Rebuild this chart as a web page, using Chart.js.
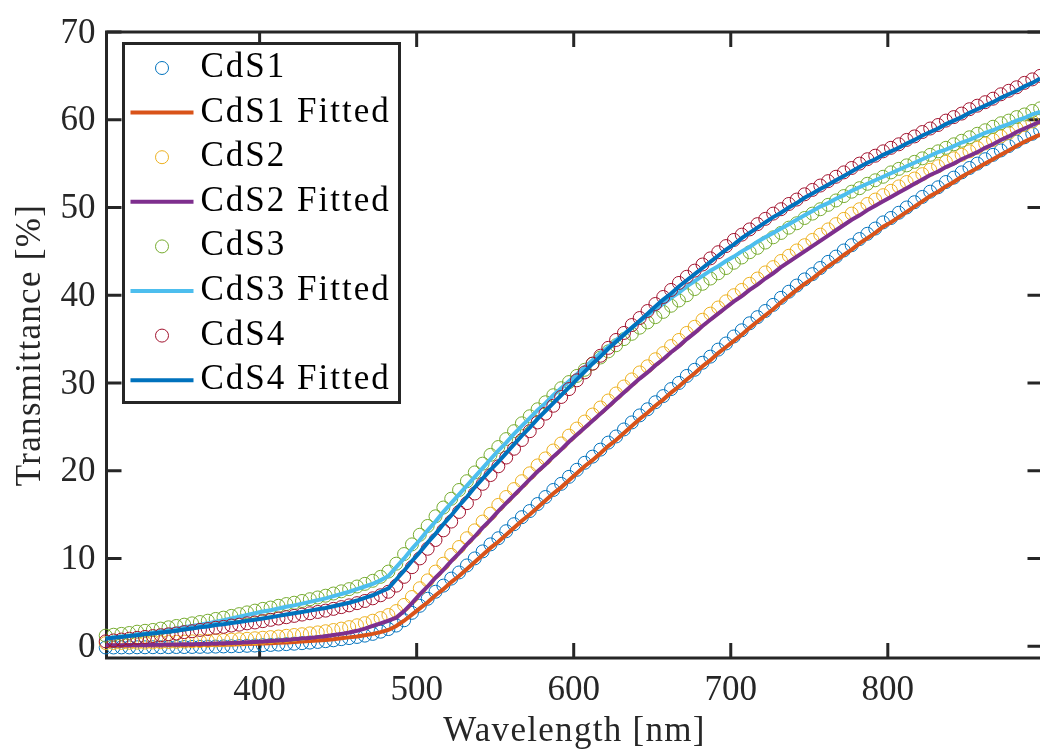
<!DOCTYPE html>
<html>
<head>
<meta charset="utf-8">
<script src="https://cdn.jsdelivr.net/npm/chart.js@4.4.1/dist/chart.umd.min.js"></script>
<style>
  html, body { margin: 0; padding: 0; overflow: hidden; background: #fff; }
</style>
</head>
<body>
<canvas id="myChart" width="1050" height="749"></canvas>
<script>
// wavelength grid [nm]
const wavelength = [
  302,307,312,317,322,327,332,337,342,347,
  352,357,362,367,372,377,382,387,392,397,
  402,407,412,417,422,427,432,437,442,447,
  452,457,462,467,472,477,482,487,492,497,
  502,507,512,517,522,527,532,537,542,547,
  552,557,562,567,572,577,582,587,592,597,
  602,607,612,617,622,627,632,637,642,647,
  652,657,662,667,672,677,682,687,692,697,
  702,707,712,717,722,727,732,737,742,747,
  752,757,762,767,772,777,782,787,792,797,
  802,807,812,817,822,827,832,837,842,847,
  852,857,862,867,872,877,882,887,892,897
];

// measured transmittance [%]
const cds1 = [
  -0.15,-0.15,-0.14,-0.14,-0.13,-0.13,-0.12,-0.12,-0.11,-0.10,
  -0.10,-0.09,-0.08,-0.07,-0.05,-0.03,-0.01,0.01,0.04,0.07,
  0.11,0.14,0.18,0.23,0.28,0.34,0.41,0.48,0.57,0.67,
  0.80,0.92,1.05,1.2,1.4,1.65,1.95,2.35,2.95,3.8,
  4.6,5.4,6.2,6.9,7.7,8.4,9.2,10.0,10.8,11.6,
  12.3,13.1,13.9,14.7,15.4,16.2,17.0,17.8,18.5,19.3,
  20.1,20.9,21.6,22.4,23.2,23.9,24.7,25.5,26.3,27.0,
  27.8,28.5,29.3,30.0,30.8,31.5,32.3,33.0,33.8,34.5,
  35.3,36.0,36.8,37.5,38.2,38.9,39.7,40.4,41.1,41.8,
  42.4,43.1,43.8,44.4,45.1,45.7,46.4,47.0,47.6,48.3,
  48.8,49.4,50.0,50.6,51.2,51.8,52.3,52.9,53.4,54.0,
  54.5,55.0,55.5,56.0,56.5,57.0,57.5,58.0,58.4,58.8
];
const cds2 = [
  0.35,0.36,0.37,0.38,0.40,0.41,0.43,0.45,0.47,0.49,
  0.52,0.55,0.58,0.61,0.65,0.69,0.74,0.79,0.84,0.90,
  0.96,1.03,1.1,1.18,1.27,1.36,1.46,1.57,1.7,1.84,
  2.0,2.17,2.38,2.62,2.9,3.2,3.55,4.0,4.7,5.6,
  6.6,7.5,8.5,9.4,10.4,11.3,12.3,13.2,14.2,15.1,
  16.1,17.0,17.9,18.8,19.7,20.6,21.4,22.3,23.1,24.0,
  24.8,25.6,26.4,27.2,28.0,28.8,29.6,30.4,31.2,31.9,
  32.7,33.4,34.2,34.9,35.7,36.4,37.2,37.9,38.6,39.3,
  40.0,40.6,41.3,41.9,42.6,43.2,43.9,44.5,45.1,45.7,
  46.3,46.9,47.5,48.1,48.7,49.3,49.8,50.4,50.9,51.4,
  51.9,52.4,52.9,53.3,53.8,54.3,54.7,55.2,55.6,56.0,
  56.4,56.8,57.3,57.7,58.1,58.5,59.0,59.4,59.8,60.2
];
const cds3 = [
  1.2,1.3,1.4,1.5,1.65,1.75,1.85,2.0,2.15,2.3,
  2.45,2.6,2.75,2.9,3.1,3.25,3.45,3.65,3.85,4.05,
  4.25,4.4,4.6,4.8,4.95,5.15,5.35,5.55,5.75,6.0,
  6.25,6.5,6.8,7.1,7.45,7.9,8.5,9.4,10.5,11.6,
  12.7,13.7,14.8,15.8,16.8,17.8,18.8,19.8,20.8,21.8,
  22.7,23.6,24.5,25.4,26.2,27.0,27.8,28.6,29.4,30.1,
  30.8,31.5,32.2,32.9,33.6,34.3,35.0,35.6,36.3,36.9,
  37.5,38.1,38.8,39.4,40.0,40.7,41.3,41.9,42.5,43.1,
  43.7,44.3,44.9,45.4,46.0,46.6,47.1,47.7,48.2,48.8,
  49.3,49.8,50.3,50.8,51.3,51.8,52.2,52.7,53.1,53.5,
  54.0,54.4,54.8,55.2,55.6,56.0,56.4,56.8,57.2,57.6,
  58.0,58.4,58.8,59.2,59.6,59.9,60.3,60.6,61.0,61.3
];
const cds4 = [
  0.55,0.65,0.75,0.85,0.95,1.05,1.15,1.25,1.35,1.45,
  1.6,1.7,1.85,1.95,2.1,2.2,2.35,2.45,2.6,2.7,
  2.85,3.0,3.15,3.3,3.45,3.6,3.75,3.9,4.05,4.25,
  4.45,4.65,4.9,5.15,5.45,5.8,6.2,6.9,7.9,9.0,
  10.0,11.1,12.1,13.2,14.2,15.3,16.3,17.4,18.5,19.5,
  20.5,21.5,22.5,23.5,24.5,25.5,26.5,27.4,28.4,29.3,
  30.3,31.2,32.2,33.1,34.0,34.9,35.7,36.6,37.4,38.2,
  39.0,39.8,40.6,41.4,42.1,42.8,43.5,44.2,44.9,45.6,
  46.3,46.9,47.5,48.1,48.7,49.3,49.8,50.4,50.9,51.5,
  52.0,52.5,53.0,53.5,54.0,54.5,55.0,55.5,55.9,56.4,
  56.8,57.2,57.7,58.1,58.6,59.0,59.4,59.9,60.3,60.7,
  61.2,61.6,62.0,62.4,62.9,63.3,63.7,64.2,64.6,65.0
];

// fitted curves [%]
const cds1Fit = [
  0.05,0.05,0.06,0.06,0.07,0.07,0.08,0.08,0.09,0.10,
  0.10,0.11,0.12,0.13,0.15,0.17,0.19,0.21,0.24,0.27,
  0.31,0.34,0.38,0.42,0.47,0.52,0.58,0.64,0.71,0.79,
  0.91,1.0,1.1,1.25,1.4,1.6,1.85,2.3,2.9,3.6,
  4.3,5.0,5.8,6.5,7.3,8.0,8.8,9.6,10.4,11.2,
  11.9,12.7,13.5,14.3,15.0,15.8,16.6,17.4,18.1,18.9,
  19.7,20.5,21.2,22.0,22.8,23.5,24.3,25.1,25.9,26.6,
  27.4,28.1,28.9,29.6,30.4,31.1,31.9,32.6,33.4,34.1,
  34.8,35.5,36.3,37.0,37.7,38.4,39.2,39.9,40.6,41.3,
  41.9,42.6,43.3,43.9,44.6,45.2,45.9,46.5,47.1,47.8,
  48.3,48.9,49.5,50.1,50.7,51.3,51.8,52.4,52.9,53.5,
  54.0,54.5,55.0,55.5,56.0,56.5,57.0,57.5,57.9,58.3
];
const cds2Fit = [
  0.10,0.11,0.11,0.12,0.13,0.14,0.15,0.16,0.18,0.19,
  0.21,0.23,0.25,0.27,0.30,0.33,0.36,0.40,0.44,0.48,
  0.52,0.58,0.64,0.71,0.78,0.86,0.94,1.03,1.14,1.26,
  1.4,1.55,1.75,2.0,2.3,2.6,2.9,3.25,4.0,4.9,
  5.9,6.8,7.8,8.7,9.7,10.6,11.6,12.5,13.5,14.4,
  15.4,16.3,17.2,18.1,19.0,19.9,20.7,21.6,22.4,23.3,
  24.1,24.9,25.7,26.5,27.3,28.1,28.9,29.7,30.5,31.2,
  32.0,32.7,33.5,34.2,35.0,35.7,36.5,37.2,37.9,38.6,
  39.3,39.9,40.6,41.2,41.9,42.5,43.2,43.8,44.4,45.0,
  45.6,46.2,46.8,47.4,48.0,48.6,49.1,49.7,50.2,50.7,
  51.2,51.7,52.2,52.7,53.2,53.7,54.1,54.6,55.0,55.5,
  55.9,56.3,56.8,57.2,57.7,58.1,58.6,59.0,59.4,59.8
];
const cds3Fit = [
  0.90,1.0,1.1,1.2,1.35,1.45,1.55,1.7,1.85,2.0,
  2.15,2.3,2.45,2.6,2.8,2.95,3.15,3.35,3.55,3.75,
  3.95,4.1,4.3,4.5,4.65,4.85,5.05,5.25,5.45,5.7,
  5.95,6.2,6.5,6.8,7.1,7.5,8.0,9.0,10.0,11.1,
  12.1,13.2,14.2,15.3,16.3,17.3,18.3,19.3,20.3,21.3,
  22.3,23.2,24.2,25.1,26.0,26.9,27.7,28.6,29.4,30.2,
  31.0,31.8,32.6,33.4,34.1,34.9,35.6,36.3,37.0,37.7,
  38.4,39.0,39.7,40.3,41.0,41.6,42.2,42.8,43.3,43.9,
  44.4,45.0,45.5,46.1,46.6,47.1,47.6,48.1,48.6,49.1,
  49.6,50.1,50.5,51.0,51.4,51.9,52.3,52.7,53.1,53.5,
  53.9,54.3,54.7,55.1,55.5,55.9,56.3,56.6,57.0,57.4,
  57.7,58.1,58.5,58.8,59.2,59.5,59.9,60.2,60.6,60.9
];
const cds4Fit = [
  0.85,0.95,1.05,1.15,1.25,1.35,1.45,1.55,1.65,1.75,
  1.9,2.0,2.15,2.25,2.4,2.5,2.65,2.75,2.9,3.0,
  3.15,3.3,3.45,3.6,3.75,3.9,4.05,4.2,4.35,4.55,
  4.75,4.95,5.2,5.5,5.8,6.2,6.6,7.6,8.6,9.7,
  10.7,11.8,12.8,13.9,14.9,16.0,17.0,18.1,19.1,20.1,
  21.0,22.0,23.0,24.0,24.9,25.9,26.8,27.7,28.6,29.5,
  30.4,31.3,32.2,33.0,33.9,34.7,35.5,36.3,37.1,37.9,
  38.7,39.5,40.2,41.0,41.7,42.4,43.1,43.8,44.5,45.2,
  45.8,46.5,47.1,47.7,48.3,48.9,49.4,50.0,50.5,51.1,
  51.6,52.1,52.6,53.1,53.6,54.1,54.6,55.1,55.5,56.0,
  56.4,56.8,57.3,57.7,58.2,58.6,59.0,59.5,59.9,60.3,
  60.8,61.2,61.6,62.0,62.5,62.9,63.3,63.8,64.2,64.7
];

const seriesLabels = ['CdS1', 'CdS1 Fitted', 'CdS2', 'CdS2 Fitted', 'CdS3', 'CdS3 Fitted', 'CdS4', 'CdS4 Fitted'];
const xTicks = [400, 500, 600, 700, 800];
const yTicks = [0, 10, 20, 30, 40, 50, 60, 70];

const FONT = "'Liberation Serif', 'Times New Roman', serif";
const AXIS_COLOR = '#262626';

const toPoints = vals => wavelength.map((w, i) => ({x: w, y: vals[i]}));

const measured = (label, vals, color) => ({
    label: label,
    data: toPoints(vals),
    showLine: false,
    borderColor: color,
    backgroundColor: 'rgba(0,0,0,0)',
    pointStyle: 'circle',
    pointRadius: 6.5,
    pointBorderWidth: 1,
    pointBorderColor: color,
    pointBackgroundColor: 'rgba(0,0,0,0)',
    clip: false
});

const fitted = (label, vals, color) => ({
    label: label,
    data: toPoints(vals),
    showLine: true,
    borderColor: color,
    borderWidth: 4,
    pointRadius: 0,
    tension: 0,
    clip: false
});

const datasets = [
    measured(seriesLabels[0], cds1, '#0072BD'),
    fitted(seriesLabels[1], cds1Fit, '#D95319'),
    measured(seriesLabels[2], cds2, '#EDB120'),
    fitted(seriesLabels[3], cds2Fit, '#7E2F8E'),
    measured(seriesLabels[4], cds3, '#77AC30'),
    fitted(seriesLabels[5], cds3Fit, '#4DBEEE'),
    measured(seriesLabels[6], cds4, '#A2142F'),
    fitted(seriesLabels[7], cds4Fit, '#0072BD')
];
// matlab draws later series on top
datasets.forEach((ds, i) => { ds.order = datasets.length - i; });

// box with inward ticks on all four sides
const axesBox = {
    id: 'axesBox',
    beforeDatasetsDraw(chart, args, opts) {
        const {ctx, chartArea: {left, right, top, bottom}, scales: {x, y}} = chart;
        ctx.save();
        ctx.strokeStyle = AXIS_COLOR;
        ctx.lineWidth = 3;
        ctx.beginPath();
        x.ticks.forEach(t => {
            const px = x.getPixelForValue(t.value);
            ctx.moveTo(px, bottom); ctx.lineTo(px, bottom - opts.tickLen);
            ctx.moveTo(px, top); ctx.lineTo(px, top + opts.tickLen);
        });
        y.ticks.forEach(t => {
            const py = y.getPixelForValue(t.value);
            ctx.moveTo(left, py); ctx.lineTo(left + opts.tickLen, py);
            ctx.moveTo(right, py); ctx.lineTo(right - opts.tickLen, py);
        });
        ctx.stroke();
        ctx.strokeRect(left, top, right - left, bottom - top);
        ctx.restore();
    }
};

// axis titles + boxed legend inside the plot
const overlay = {
    id: 'overlay',
    afterDraw(chart, args, opts) {
        const {ctx, chartArea: {left, right, top, bottom}} = chart;
        ctx.save();
        ctx.font = '35px ' + FONT;
        ctx.fillStyle = AXIS_COLOR;
        ctx.letterSpacing = '1.3px';
        ctx.textAlign = 'center';
        ctx.textBaseline = 'alphabetic';
        ctx.fillText('Wavelength [nm]', (left + right) / 2, 741);
        ctx.save();
        ctx.translate(40, (top + bottom) / 2);
        ctx.rotate(-Math.PI / 2);
        ctx.fillText('Transmittance [%]', 0, 0);
        ctx.restore();

        const lg = opts.box;
        ctx.fillStyle = '#fff';
        ctx.fillRect(lg.left, lg.top, lg.width, lg.height);
        ctx.strokeStyle = AXIS_COLOR;
        ctx.lineWidth = 3;
        ctx.strokeRect(lg.left, lg.top, lg.width, lg.height);

        ctx.letterSpacing = '2px';
        ctx.textAlign = 'left';
        chart.data.datasets.forEach((ds, i) => {
            const cy = lg.top + lg.firstRow + i * lg.rowGap;
            ctx.strokeStyle = ds.borderColor;
            if (ds.showLine) {
                ctx.lineWidth = 4;
                ctx.beginPath();
                ctx.moveTo(lg.left + 7, cy);
                ctx.lineTo(lg.left + 70, cy);
                ctx.stroke();
            } else {
                ctx.lineWidth = 1;
                ctx.beginPath();
                ctx.arc(lg.left + 38.5, cy, 6.5, 0, Math.PI * 2);
                ctx.stroke();
            }
            ctx.fillStyle = '#000';
            ctx.fillText(ds.label, lg.left + 77, cy + 9);
        });
        ctx.restore();
    }
};

const config = {
    type: 'line',
    data: { datasets: datasets },
    options: {
        responsive: false,
        animation: false,
        devicePixelRatio: 1,
        events: [],
        layout: { padding: { top: 25, right: 7, left: 0, bottom: 0 } },
        scales: {
            x: {
                type: 'linear',
                min: 302.5,
                max: 898.5,
                afterBuildTicks: s => { s.ticks = xTicks.map(v => ({value: v})); },
                afterFit: s => { s.height = 91; },
                grid: { display: false, drawTicks: false },
                border: { display: false },
                ticks: {
                    padding: 12,
                    color: AXIS_COLOR,
                    maxRotation: 0,
                    font: { family: FONT, size: 35, lineHeight: 1.2 }
                }
            },
            y: {
                type: 'linear',
                min: -1.35,
                max: 70,
                afterBuildTicks: s => { s.ticks = yTicks.map(v => ({value: v})); },
                afterFit: s => { s.width = 106.5; },
                grid: { display: false, drawTicks: false },
                border: { display: false },
                ticks: {
                    padding: 11,
                    labelOffset: 1.5,
                    color: AXIS_COLOR,
                    font: { family: FONT, size: 35, lineHeight: 1.2 }
                }
            }
        },
        plugins: {
            legend: { display: false },
            tooltip: { enabled: false },
            title: { display: false },
            axesBox: { tickLen: 15 },
            overlay: {
                box: { left: 123.5, top: 43.5, width: 276, height: 359, firstRow: 24.5, rowGap: 44.6 }
            }
        }
    },
    plugins: [axesBox, overlay]
};

const myChart = new Chart(document.getElementById('myChart'), config);
</script>
</body>
</html>
